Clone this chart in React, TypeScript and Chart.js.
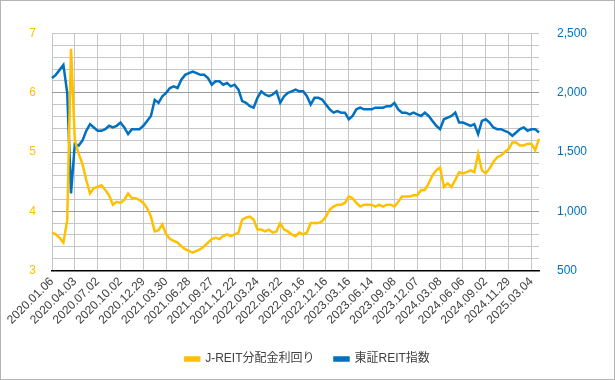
import React, { useEffect, useRef } from 'react';
import { Chart, registerables } from 'chart.js';

Chart.register(...registerables);

const tickLabels = [
  '2020.01.06', '2020.04.03', '2020.07.02', '2020.10.02', '2020.12.29',
  '2021.03.30', '2021.06.28', '2021.09.27', '2021.12.22', '2022.03.24',
  '2022.06.22', '2022.09.16', '2022.12.16', '2023.03.16', '2023.06.14',
  '2023.09.08', '2023.12.07', '2024.03.08', '2024.06.06', '2024.09.02',
  '2024.11.29', '2025.03.04',
];

// J-REIT distribution yield (%), sampled every 10 trading days
const yieldValues = [
  3.64, 3.61, 3.55, 3.47, 3.85, 6.74, 5.2, 4.97, 4.8, 4.53,
  4.3, 4.39, 4.41, 4.44, 4.36, 4.27, 4.11, 4.16, 4.14, 4.19,
  4.3, 4.22, 4.22, 4.19, 4.14, 4.05, 3.91, 3.66, 3.68, 3.78,
  3.61, 3.53, 3.5, 3.47, 3.41, 3.36, 3.33, 3.3, 3.33, 3.36,
  3.41, 3.47, 3.53, 3.55, 3.53, 3.58, 3.61, 3.58, 3.61, 3.64,
  3.86, 3.89, 3.91, 3.86, 3.69, 3.69, 3.66, 3.69, 3.64, 3.66,
  3.8, 3.69, 3.66, 3.61, 3.58, 3.64, 3.61, 3.64, 3.8, 3.8,
  3.8, 3.83, 3.91, 4.03, 4.08, 4.11, 4.11, 4.14, 4.25, 4.22,
  4.14, 4.08, 4.11, 4.11, 4.11, 4.08, 4.11, 4.08, 4.11, 4.11,
  4.08, 4.16, 4.25, 4.25, 4.25, 4.27, 4.27, 4.36, 4.36, 4.47,
  4.61, 4.69, 4.74, 4.41, 4.47, 4.41, 4.53, 4.66, 4.64, 4.66,
  4.69, 4.66, 4.97, 4.69, 4.64, 4.72, 4.83, 4.91, 4.94, 5.0,
  5.05, 5.16, 5.16, 5.11, 5.11, 5.14, 5.14, 5.03, 5.22,
];

// TSE REIT index, sampled every 10 trading days
const indexValues = [
  2124, 2151, 2193, 2235, 2000, 1151, 1568, 1554, 1596, 1679,
  1735, 1707, 1679, 1679, 1693, 1721, 1707, 1721, 1749, 1707,
  1651, 1693, 1693, 1693, 1721, 1762, 1804, 1940, 1915, 1971,
  1999, 2040, 2054, 2040, 2110, 2151, 2165, 2179, 2165, 2151,
  2151, 2124, 2068, 2096, 2096, 2068, 2082, 2054, 2068, 2026,
  1929, 1915, 1887, 1874, 1957, 2012, 1985, 1971, 1985, 2012,
  1915, 1971, 1999, 2012, 2026, 2012, 2012, 1971, 1901, 1957,
  1957, 1943, 1901, 1860, 1832, 1846, 1832, 1832, 1776, 1804,
  1860, 1874, 1860, 1860, 1860, 1874, 1874, 1874, 1887, 1887,
  1915, 1860, 1832, 1832, 1818, 1832, 1818, 1804, 1832, 1804,
  1762, 1721, 1693, 1776, 1790, 1804, 1832, 1749, 1749, 1735,
  1721, 1735, 1651, 1762, 1776, 1749, 1707, 1693, 1693, 1679,
  1665, 1637, 1665, 1693, 1707, 1679, 1693, 1693, 1665,
];

const SAMPLES_PER_TICK = 6;
const categories = yieldValues.map((_, i) =>
  i % SAMPLES_PER_TICK === 0 ? tickLabels[i / SAMPLES_PER_TICK] : ''
);

const YELLOW = '#FFC000';
const BLUE = '#0070C0';
const MINOR_GRID = '#c6c6c6';
const MAJOR_GRID = '#9a9a9a';
const FONT = '"Liberation Sans", Arial, "Noto Sans CJK JP", sans-serif';

const framePlugin = {
  id: 'frame',
  beforeDraw(chart: any) {
    const { ctx, width, height } = chart;
    ctx.save();
    ctx.fillStyle = '#ffffff';
    ctx.fillRect(0, 0, width, height);
    ctx.restore();
  },
  afterDraw(chart: any) {
    const { ctx, width, height } = chart;
    ctx.save();
    ctx.strokeStyle = '#b4b4b4';
    ctx.lineWidth = 1;
    ctx.strokeRect(0.5, 0.5, width - 1, height - 1);
    ctx.restore();
  },
};

const isInt = (v: number) => Math.abs(v - Math.round(v)) < 1e-6;

export default function App() {
  const ref = useRef<HTMLCanvasElement>(null);
  useEffect(() => {
    document.body.style.margin = '0';
    const chart = new Chart(ref.current as HTMLCanvasElement, {
      type: 'line',
      data: {
        labels: categories,
        datasets: [
          {
            label: 'J-REIT分配金利回り',
            data: yieldValues,
            borderColor: YELLOW,
            backgroundColor: YELLOW,
            borderWidth: 2.5,
            pointRadius: 0,
            tension: 0,
            yAxisID: 'y',
          },
          {
            label: '東証REIT指数',
            data: indexValues,
            borderColor: BLUE,
            backgroundColor: BLUE,
            borderWidth: 2.5,
            pointRadius: 0,
            tension: 0,
            yAxisID: 'y1',
          },
        ],
      },
      options: {
        responsive: false,
        animation: false,
        layout: { padding: { top: 33.5, bottom: 5, left: 0, right: 0 } },
        plugins: {
          legend: {
            position: 'bottom',
            labels: {
              boxWidth: 14,
              boxHeight: 3,
              padding: 20,
              color: '#404040',
              font: { size: 12, family: FONT },
            },
          },
          tooltip: { enabled: false },
        },
        scales: {
          x: {
            ticks: {
              autoSkip: false,
              maxRotation: 45,
              minRotation: 45,
              color: '#404040',
              padding: 4,
              font: { size: 12, family: FONT },
            },
            grid: {
              color: (c: any) => (c.index % SAMPLES_PER_TICK === 0 ? MINOR_GRID : 'rgba(0,0,0,0)'),
              drawTicks: false,
            },
            border: { color: '#000000', width: 1.5 },
            afterFit: (s: any) => {
              s.height = 62.5;
            },
          },
          y: {
            position: 'left',
            min: 3,
            max: 7,
            ticks: {
              stepSize: 0.2,
              autoSkip: false,
              color: YELLOW,
              padding: 16,
              font: { size: 12, family: FONT },
              callback: (v: any) => (isInt(Number(v)) ? String(Math.round(Number(v))) : ''),
            },
            grid: {
              color: (c: any) => {
                const v = c.tick ? c.tick.value : 0;
                return isInt(v) && Math.round(v) !== 7 ? MAJOR_GRID : MINOR_GRID;
              },
              drawTicks: false,
            },
            border: { display: false },
            afterFit: (s: any) => {
              s.width = 52;
            },
          },
          y1: {
            position: 'right',
            min: 500,
            max: 2500,
            ticks: {
              stepSize: 100,
              autoSkip: false,
              color: BLUE,
              padding: 10,
              font: { size: 12, family: FONT },
              callback: (v: any) =>
                Math.round(Number(v)) % 500 === 0 ? Math.round(Number(v)).toLocaleString('en-US') : '',
            },
            grid: { display: false },
            border: { display: false },
            afterFit: (s: any) => {
              s.width = 76;
            },
          },
        },
      },
      plugins: [framePlugin],
    });
    return () => chart.destroy();
  }, []);
  return <canvas ref={ref} width={615} height={380} style={{ display: 'block' }} />;
}
